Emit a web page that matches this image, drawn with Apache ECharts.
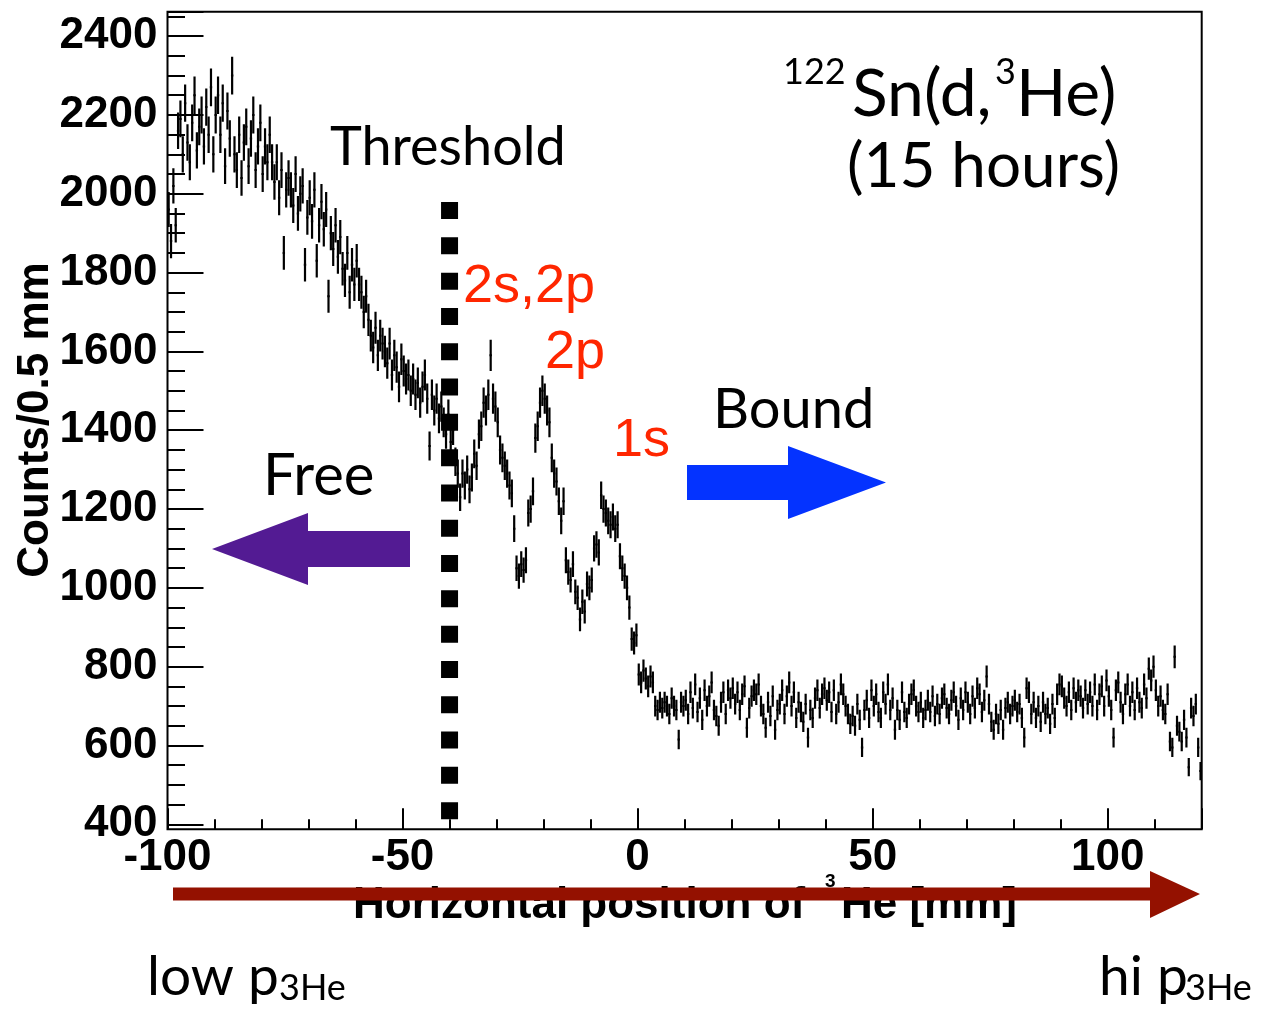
<!DOCTYPE html>
<html><head><meta charset="utf-8">
<script src="https://cdn.jsdelivr.net/npm/echarts@6/dist/echarts.min.js"></script>
<style>html,body{margin:0;padding:0;background:#fff}#c{width:1265px;height:1009px}</style>
</head><body><div id="c"></div>
<script>
// ---- data ----
const binStart = -100;
const binWidth = 0.5;
const counts = [
 1960,1880,2020,1920,2160,2190,2100,2230,2130,2080,
 2180,2250,2110,2170,2200,2120,2220,2150,2270,2100,
 2200,2250,2150,2230,2070,2210,2140,2300,2100,2060,
 2150,2040,2130,2170,2070,2140,2200,2060,2120,2180,
 2050,2120,2080,2150,2080,2030,2080,1990,2060,1850,
 2010,2040,2010,1970,2050,1950,2000,2020,1820,1940,
 1990,1930,2010,1830,1920,1980,1910,1960,1740,1900,
 1860,1920,1840,1890,1810,1780,1850,1750,1820,1770,
 1830,1770,1750,1700,1740,1680,1640,1610,1660,1590,
 1640,1620,1600,1570,1620,1540,1590,1560,1510,1580,
 1550,1530,1540,1500,1530,1490,1520,1470,1510,1540,
 1480,1360,1490,1450,1480,1430,1460,1420,1390,1440,
 1370,1400,1320,1290,1230,1290,1260,1300,1250,1280,
 1340,1310,1390,1410,1470,1450,1490,1590,1480,1460,
 1420,1350,1330,1310,1290,1260,1240,1150,1050,1030,
 1060,1045,1070,1190,1200,1245,1380,1410,1470,1500,
 1480,1450,1420,1330,1290,1270,1220,1170,1220,1070,
 1040,1020,1060,990,975,920,965,940,1010,1000,
 1020,1100,1110,1090,1235,1200,1190,1170,1160,1180,
 1150,1160,1080,1050,1030,1000,950,870,860,880,
 780,760,790,770,750,775,760,700,690,710,
 695,710,700,680,720,700,690,615,710,700,
 715,680,735,695,755,685,720,665,740,700,
 725,760,690,675,650,710,735,680,740,720,
 745,705,735,690,730,750,645,695,725,740,
 730,755,700,680,645,710,675,725,640,690,
 705,740,680,725,760,700,735,670,710,685,
 660,705,620,690,670,720,740,695,730,745,
 715,735,685,740,680,710,755,730,700,680,
 655,675,650,705,665,595,690,715,670,740,
 700,730,685,670,735,705,755,690,720,640,
 690,665,735,685,670,705,730,740,700,685,
 710,670,690,715,685,725,675,705,680,720,
 730,695,680,715,735,700,665,720,690,735,
 710,680,725,695,745,730,685,715,775,705,
 660,640,680,655,690,640,695,710,680,700,
 715,685,705,670,620,745,735,680,710,670,
 700,660,710,680,695,655,705,670,730,755,
 750,720,700,735,690,745,710,740,725,695,
 740,705,735,700,755,690,730,750,700,765,
 725,690,620,740,760,710,680,730,755,700,
 735,690,745,710,695,755,720,795,765,800,
 740,700,725,690,680,730,610,595,825,650,
 635,610,665,620,545,695,675,705,595,535
];
const xMin = -100, xMax = 120;
const yMin = 400, yMax = 2462;
const xMajorStep = 50, xMinorStep = 10;
const yMajorStep = 200, yMinorStep = 50;
const thresholdX = -40;
const thresholdTop = 1979, thresholdBottom = 413;

// ---- chart ----
const chart = echarts.init(document.getElementById('c'), null, {renderer: 'canvas'});
const errData = counts.map((n, i) => [binStart + (i + 0.5) * binWidth, n, Math.sqrt(n)]);

const G = {left: 167.5, top: 11.7, width: 1034.2, height: 812.6};
const frameBottom = 829.3;
const lab = '"Liberation Sans", Arial, Helvetica, sans-serif';
const gill = 'Lato, "Open Sans", sans-serif';
const RED = '#ff2600';

function txt(text, x, y, font, color, extra) {
  return Object.assign({
    type: 'text', x: x, y: y, z: 200,
    style: {text: text, font: font, fill: color || '#000',
      textAlign: 'left', textVerticalAlign: 'middle', align: 'left', verticalAlign: 'middle'}
  }, extra || {});
}

const noLine = {show: false, onZero: false};
const option = {
  animation: false,
  backgroundColor: '#fff',
  grid: Object.assign({show: false, containLabel: false}, G),
  xAxis: [
    {type: 'value', min: xMin, max: xMax, interval: xMinorStep, position: 'bottom', offset: frameBottom - (G.top + G.height),
     axisLine: noLine, axisTick: {show: true, inside: true, length: 10, lineStyle: {color: '#000', width: 2}},
     axisLabel: {show: false}, splitLine: {show: false}},
    {type: 'value', min: xMin, max: xMax, interval: xMajorStep, position: 'bottom', offset: frameBottom - (G.top + G.height),
     axisLine: noLine, axisTick: {show: true, inside: true, length: 21, lineStyle: {color: '#000', width: 2}},
     axisLabel: {show: true, margin: 7, color: '#000', fontFamily: lab, fontWeight: 'bold', fontSize: 44,
       formatter: v => (v % xMajorStep === 0 && v <= 100) ? String(v) : ''},
     splitLine: {show: false}}
  ],
  yAxis: [
    {type: 'value', min: yMin, max: yMax, interval: yMinorStep, position: 'left',
     axisLine: noLine, axisTick: {show: true, inside: true, length: 17.5, lineStyle: {color: '#000', width: 2}},
     axisLabel: {show: false}, splitLine: {show: false}},
    {type: 'value', min: yMin, max: yMax, interval: yMajorStep, position: 'left',
     axisLine: noLine, axisTick: {show: true, inside: true, length: 36, lineStyle: {color: '#000', width: 2}},
     axisLabel: {show: true, margin: 10, color: '#000', fontFamily: lab, fontWeight: 'bold', fontSize: 44,
       formatter: v => (v % yMajorStep === 0) ? String(v) : ''},
     splitLine: {show: false}}
  ],
  series: [
    {
      type: 'custom', xAxisIndex: 0, yAxisIndex: 0, clip: true, silent: true,
      encode: {x: 0, y: 1},
      data: errData,
      renderItem: function (params, api) {
        const x = api.value(0), n = api.value(1), e = api.value(2);
        const t = api.coord([x, n + e]), b = api.coord([x, n - e]);
        const l = api.coord([x - binWidth / 2, n]), r = api.coord([x + binWidth / 2, n]);
        return {type: 'group', children: [
          {type: 'line', shape: {x1: t[0], y1: t[1], x2: b[0], y2: b[1]}, style: {stroke: '#000', lineWidth: 2.2}},
          {type: 'line', shape: {x1: l[0], y1: l[1], x2: r[0], y2: r[1]}, style: {stroke: '#000', lineWidth: 2}}
        ]};
      }
    },
    {
      type: 'line', xAxisIndex: 0, yAxisIndex: 0, silent: true, symbol: 'none', z: 5,
      data: [[thresholdX, thresholdTop], [thresholdX, thresholdBottom]],
      lineStyle: {color: '#000', width: 17, type: [17, 18.3], cap: 'butt'}
    }
  ],
  graphic: [
    // frame
    {type: 'rect', z: 150, shape: {x: G.left, y: G.top, width: G.width, height: frameBottom - G.top},
     style: {fill: 'none', stroke: '#000', lineWidth: 2}},
    // y axis title
    {type: 'text', x: 36, y: 420, rotation: Math.PI / 2, z: 200,
     style: {text: 'Counts/0.5 mm', font: 'bold 44px ' + lab, fill: '#000',
       textAlign: 'center', textVerticalAlign: 'middle', align: 'center', verticalAlign: 'middle'}},
    // x axis title (under arrow)
    txt('Horizontal position of', 353, 906, 'bold 44px ' + lab),
    txt('3', 825, 882, 'bold 19px ' + lab),
    txt('He [mm]', 841, 906, 'bold 44px ' + lab),
    // dark red arrow
    {type: 'polygon', z: 210, shape: {points: [[173, 887.5], [1150, 887.5], [1150, 871], [1200, 894], [1150, 918], [1150, 900.5], [173, 900.5]]},
     style: {fill: '#941100'}},
    // low / hi momentum
    txt('low p', 147, 977, '55px ' + gill),
    txt('3He', 279, 988, '36px ' + gill),
    txt('hi p', 1099, 977, '55px ' + gill),
    txt('3He', 1185, 988, '36px ' + gill),
    // reaction title
    txt('122', 783, 72, '36px ' + gill),
    txt('Sn(d,', 852, 95, '66px ' + gill),
    txt('3', 995, 72, '36px ' + gill),
    txt('He)', 1016, 95, '66px ' + gill),
    txt('(15 hours)', 847, 167, '62px ' + gill),
    // threshold
    txt('Threshold', 330, 148, '54px ' + gill),
    // state labels
    txt('2s,2p', 463, 287, '54px ' + lab, RED),
    txt('2p', 545, 353, '54px ' + lab, RED),
    txt('1s', 613, 441, '54px ' + lab, RED),
    // bound / free
    txt('Bound', 713, 410, '56px ' + gill),
    txt('Free', 263, 476, '58px ' + gill),
    {type: 'polygon', z: 210, shape: {points: [[687, 465], [788, 465], [788, 446], [886, 482.5], [788, 519], [788, 500], [687, 500]]},
     style: {fill: '#0433ff'}},
    {type: 'polygon', z: 210, shape: {points: [[410, 531], [308, 531], [308, 513], [212, 549], [308, 585], [308, 567], [410, 567]]},
     style: {fill: '#531b93'}}
  ]
};
chart.setOption(option);
</script>
</body></html>
